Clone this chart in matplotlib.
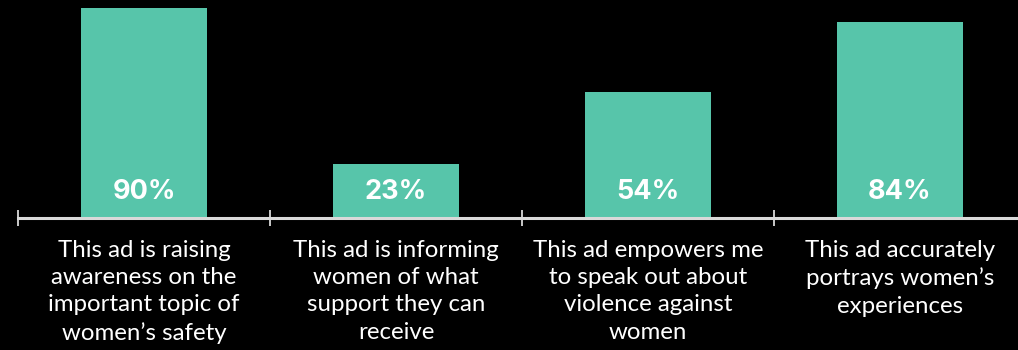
import matplotlib.pyplot as plt
import numpy as np

# survey answers and the share of respondents who agreed
statements = [
    "This ad is raising\nawareness on the\nimportant topic of\nwomen\u2019s safety",
    "This ad is informing\nwomen of what\nsupport they can\nreceive",
    "This ad empowers me\nto speak out about\nviolence against\nwomen",
    "This ad accurately\nportrays women\u2019s\nexperiences",
]
agree_pct = [90, 23, 54, 84]

bar_color = "#57c5aa"
axis_color = "#d9d9d9"

plt.rcParams["font.family"] = ["Lato", "DejaVu Sans"]

fig = plt.figure(figsize=(10.18, 3.5), dpi=100, facecolor="black")
ax = fig.add_axes([18 / 1018, 132 / 350, 1000 / 1018, 218 / 350])
ax.set_facecolor("black")

x = np.arange(len(agree_pct))
bars = ax.bar(x, agree_pct, width=0.5, color=bar_color, zorder=2)

for xi, v in zip(x, agree_pct):
    ax.annotate(f"{v}%", xy=(xi, 0), xytext=(0, 13.5), textcoords="offset points",
                ha="center", va="baseline", color="white", fontsize=19.5,
                fontweight="bold", family=["Inter", "DejaVu Sans"])
    ax.annotate(statements[xi], xy=(xi, 0), xytext=(0, -16), textcoords="offset points",
                ha="center", va="top", color="white", fontsize=17.3,
                linespacing=1.36)

ax.set_xlim(-0.5, -0.5 + 1000 / 252)
ax.set_ylim(0, 93.4)

for s in ["top", "right", "left"]:
    ax.spines[s].set_visible(False)
ax.spines["bottom"].set_color(axis_color)
ax.spines["bottom"].set_linewidth(2.2)
ax.spines["bottom"].set_zorder(3)

ax.set_xticks(np.arange(len(agree_pct)) - 0.5)
ax.set_xticklabels([])
ax.tick_params(axis="x", direction="inout", length=11, width=1.3, color=axis_color)
ax.set_yticks([])

fig.savefig("out.png", dpi=100, facecolor="black")
